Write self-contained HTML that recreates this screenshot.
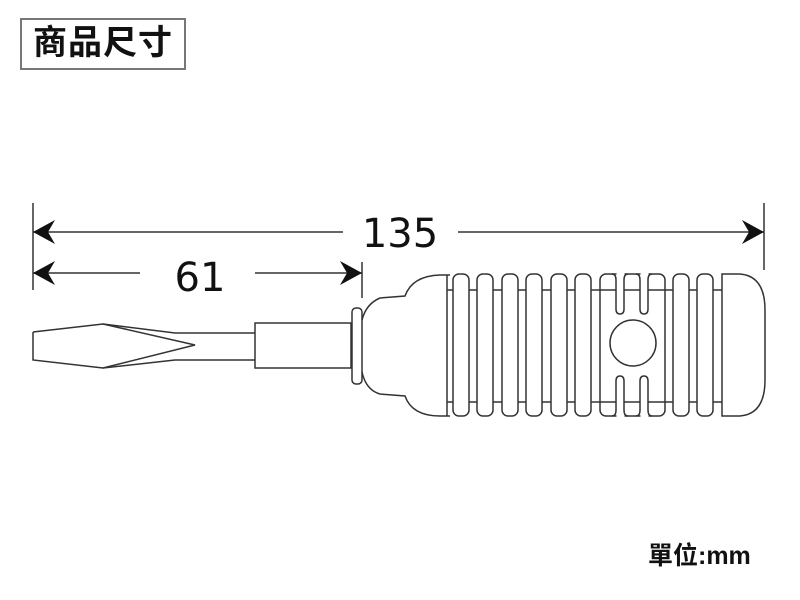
<!DOCTYPE html>
<html><head><meta charset="utf-8"><style>
body{margin:0;background:#fff;width:800px;height:600px;overflow:hidden;position:relative}
.t{position:absolute;left:20px;top:18px;width:166px;height:52px;border:2px solid #777;box-sizing:border-box;font:bold 34px "Liberation Sans","Noto Sans CJK TC",sans-serif;line-height:46px;text-align:center;color:#111;letter-spacing:1px}
.u{position:absolute;left:648px;top:536px;font:bold 25px "Liberation Sans","Noto Sans CJK TC",sans-serif;color:#111}
</style></head><body>
<div class="t">商品尺寸</div>
<div class="u">單位:mm</div>
<svg width="800" height="600" style="position:absolute;left:0;top:0" fill="none" stroke="#333" stroke-width="1.5">
<g stroke="#333">
<line x1="33" y1="203" x2="33" y2="290"/>
<line x1="764" y1="203" x2="764" y2="270"/>
<line x1="362" y1="262" x2="362" y2="298"/>
<line x1="33" y1="232" x2="343" y2="232"/>
<line x1="458" y1="232" x2="764" y2="232"/>
<line x1="33" y1="273" x2="140" y2="273"/>
<line x1="255" y1="273" x2="362" y2="273"/>
</g>
<g fill="#111" stroke="none">
<path d="M33 232 L55 220 L48 232 L55 244Z"/>
<path d="M764 232 L742 220 L749 232 L742 244Z"/>
<path d="M33 273 L55 261 L48 273 L55 285Z"/>
<path d="M362 273 L340 261 L347 273 L340 285Z"/>
</g>
<g font-family="DejaVu Sans,sans-serif" font-size="40" fill="#111" stroke="none" text-anchor="middle">
<text x="400" y="247">135</text>
<text x="200" y="291">61</text>
</g>
<path d="M33 332 L103 324 L175 333 L255 333 M175 360 L255 360 M33 332 L33 360 L103 368 L175 360" />
<path d="M103 324 L195 345 L103 368"/>
<rect x="255" y="323" width="96" height="45"/>
<rect x="352" y="308" width="10" height="76" rx="4"/>
<path d="M362 320 Q366 304 380 298 L405 296 Q412 276 440 275 L450 275 M362 372 Q366 390 380 394 L405 396 Q412 416 440 416 L450 416"/>
<line x1="447" y1="290" x2="722" y2="290"/>
<line x1="447" y1="402" x2="722" y2="402"/>
<line x1="447" y1="275" x2="447" y2="416"/>
<g fill="#fff">
<rect x="453" y="274" width="16" height="142" rx="6"/>
<rect x="477" y="274" width="16" height="142" rx="6"/>
<rect x="502" y="274" width="16" height="142" rx="6"/>
<rect x="526" y="274" width="16" height="142" rx="6"/>
<rect x="551" y="274" width="16" height="142" rx="6"/>
<rect x="575" y="274" width="16" height="142" rx="6"/>
<rect x="600" y="274" width="65" height="142" rx="6"/>
<rect x="673" y="274" width="16" height="142" rx="6"/>
<rect x="697" y="274" width="16" height="142" rx="6"/>
<path d="M722 274 L740 274 Q765 276 765 310 L765 380 Q765 414 740 416 L722 416 Z"/>
<rect x="616.5" y="272" width="8" height="4" stroke="none"/>
<rect x="640.5" y="272" width="8" height="4" stroke="none"/>
<rect x="616.5" y="414" width="8" height="4" stroke="none"/>
<rect x="640.5" y="414" width="8" height="4" stroke="none"/>
</g>
<path d="M612 274 Q616 274 616 280 L616 309 Q616 314 620 314 Q624 314 624 309 L624 280 Q624 274 628 274 M636 274 Q640 274 640 280 L640 309 Q640 314 644 314 Q648 314 648 309 L648 280 Q648 274 652 274"/>
<path d="M612 416 Q616 416 616 410 L616 381 Q616 376 620 376 Q624 376 624 381 L624 410 Q624 416 628 416 M636 416 Q640 416 640 410 L640 381 Q640 376 644 376 Q648 376 648 381 L648 410 Q648 416 652 416"/>
<path d="M600 290 L616 290 M624 290 L640 290 M648 290 L665 290 M600 402 L616 402 M624 402 L640 402 M648 402 L665 402"/>
<circle cx="633" cy="343" r="23"/>
</svg>
</body></html>
